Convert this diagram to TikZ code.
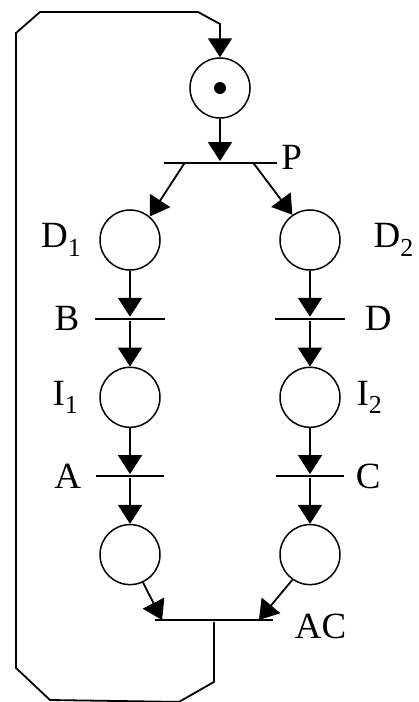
\documentclass[tikz,border=0pt]{standalone}
\usepackage{fontspec}
\setmainfont{Liberation Serif}
\usetikzlibrary{arrows.meta,positioning}

\begin{document}
\begin{tikzpicture}[x=1pt,y=1pt,line width=1.8pt,node distance=46pt,
   font=\fontsize{37}{40}\selectfont,
   place/.style={draw,circle,minimum size=60pt,inner sep=0pt,line width=1.5pt},
   trans/.style={fill=black,minimum height=2pt,inner sep=0pt},
   arc/.style={-{Triangle[length=19pt,width=24pt]}},
   lbl/.style={inner sep=0pt}]
  \useasboundingbox (0,0) rectangle (418,-702);
  % initial place with token
  \node[place] (pTop) at (220,-88) {};
  \fill (pTop) circle (6pt);
  \node[trans,minimum width=113pt] (tP) at (220,-163) {};
  \node[lbl,right=3pt of tP,yshift=6pt] (lP) {P};
  % left branch
  \node[place] (pD1) at (130,-240) {};
  \node[trans,minimum width=70pt,below=of pD1] (tB) {};
  \node[place,below=of tB] (pI1) {};
  \node[trans,minimum width=68pt,below=of pI1] (tA) {};
  \node[place,below=of tA] (pL) {};
  % right branch
  \node[place] (pD2) at (310,-240) {};
  \node[trans,minimum width=70pt,below=of pD2] (tD) {};
  \node[place,below=of tD] (pI2) {};
  \node[trans,minimum width=68pt,below=of pI2] (tC) {};
  \node[place,below=of tC] (pR) {};
  % synchronisation
  \node[trans,minimum width=118pt] (tAC) at (214,-620) {};
  \node[lbl,right=20pt of tAC,yshift=-6pt] (lAC) {AC};
  % labels
  \node[lbl,left=17pt of pD1] (lD1) {D\textsubscript{1}};
  \node[lbl,right=32pt of pD2] (lD2) {D\textsubscript{2}};
  \node[lbl,left=14pt of tB] (lB) {B};
  \node[lbl,right=18pt of tD] (lD) {D};
  \node[lbl,left=20pt of pI1] (lI1) {I\textsubscript{1}};
  \node[lbl,right=15pt of pI2] (lI2) {I\textsubscript{2}};
  \node[lbl,left=13pt of tA] (lA) {A};
  \node[lbl,right=10pt of tC] (lC) {C};
  % arcs
  \draw[arc] (pTop) -- (tP);
  \draw[arc] ([xshift=22pt]tP.west) -- (pD1.50);
  \draw[arc] ([xshift=-24pt]tP.east) -- (pD2.125);
  \draw[arc] (pD1) -- (tB);
  \draw[arc] (tB) -- (pI1);
  \draw[arc] (pI1) -- (tA);
  \draw[arc] (tA) -- (pL);
  \draw[arc] (pD2) -- (tD);
  \draw[arc] (tD) -- (pI2);
  \draw[arc] (pI2) -- (tC);
  \draw[arc] (tC) -- (pR);
  \draw[arc] (pL.-65) -- ([xshift=8pt]tAC.west);
  \draw[arc] (pR.-125) -- ([xshift=-15pt]tAC.east);
  % loop back to the initial place
  \draw[arc] (tAC.south) -- ++(0,-60) -- ++(-35,-20) -- (50,-700) -- (16,-668)
     -- (16,-33) -- (40,-12) -- (198,-12) -- (220,-24) -- (pTop.north);
\end{tikzpicture}
\end{document}
